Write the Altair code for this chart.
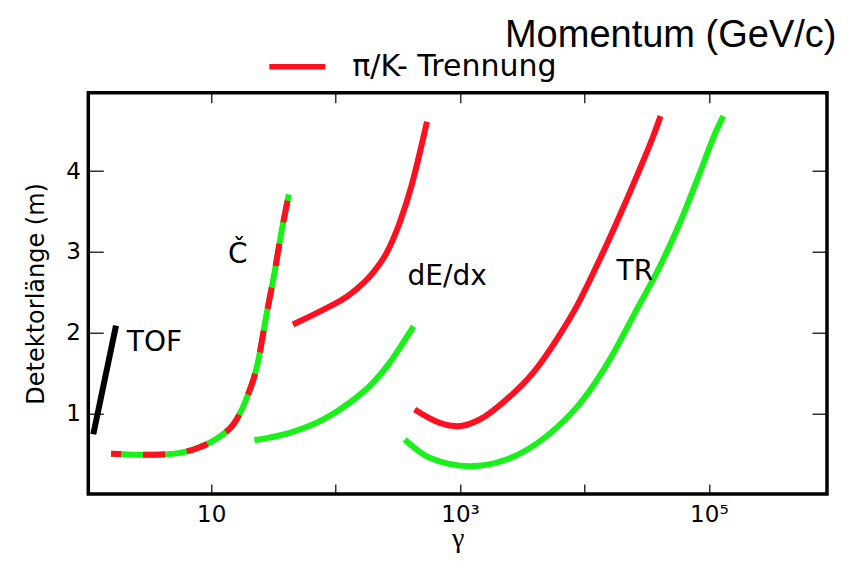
import altair as alt
import pandas as pd

RED = "#ff1020"
GREEN = "#1af01a"
PI_K = "π/K- Trennung"
E_PI = "e/π- Trennung"

# ---- data (gamma, detector length in m) ----
tof_gamma = [1.13, 1.72]
tof_len = [0.74, 2.085]

ck_gamma = [1.57, 3.09, 5.07, 7.80, 11.7, 15.4, 19.1, 23.7, 27.7, 32.3, 36.6, 42.1]
ck_len = [0.50, 0.485, 0.50, 0.57, 0.71, 0.88, 1.17, 1.62, 2.20, 2.74, 3.23, 3.71]

dedx_pik_gamma = [45.4, 79.1, 129.6, 199.5, 255.8, 327.3, 406.4, 474.2, 542.7]
dedx_pik_len = [2.10, 2.28, 2.47, 2.74, 2.98, 3.36, 3.81, 4.22, 4.61]
dedx_epi_gamma = [22.3, 42.7, 79.1, 129.6, 199.5, 271.9, 347.9, 424.1]
dedx_epi_len = [0.666, 0.757, 0.92, 1.13, 1.376, 1.624, 1.87, 2.077]

tr_pik_gamma = [432, 687, 964, 1440, 2362, 3864, 5963, 8638, 12500, 18120, 26240, 35690, 40930]
tr_pik_len = [1.047, 0.882, 0.84, 0.923, 1.17, 1.50, 1.91, 2.32, 2.82, 3.36, 3.93, 4.43, 4.68]
tr_epi_gamma = [359, 570, 1196, 2362, 4955, 9761, 15990, 26240, 40430, 58540, 84800, 115600, 130600]
tr_epi_len = [0.675, 0.448, 0.344, 0.427, 0.715, 1.17, 1.665, 2.28, 2.82, 3.36, 3.98, 4.51, 4.68]

label_text = ["TOF", "Č", "dE/dx", "TR"]
label_gamma = [3.5, 16.4, 789, 25440]
label_len = [1.776, 2.865, 2.584, 2.655]

x_ticks = [10, 100, 1000, 10000, 100000]
y_ticks = [1, 2, 3, 4]
x_domain = [1.03, 8.9e5]
y_domain = [0, 4.97]

W, H = 738.7, 401.3


def curve(name, sep, g, l):
    return pd.DataFrame({"curve": name, "sep": sep, "gamma": g, "len": l})


tof_df = curve("TOF", "TOF", tof_gamma, tof_len)
green_df = pd.concat([
    curve("Č", E_PI, ck_gamma, ck_len),
    curve("dE/dx", E_PI, dedx_epi_gamma, dedx_epi_len),
    curve("TR", E_PI, tr_epi_gamma, tr_epi_len),
])
red_df = pd.concat([
    curve("dE/dx", PI_K, dedx_pik_gamma, dedx_pik_len),
    curve("TR", PI_K, tr_pik_gamma, tr_pik_len),
])
ck_red_df = curve("Č", PI_K, ck_gamma, ck_len)
label_df = pd.DataFrame({"label": label_text, "gamma": label_gamma, "len": label_len})

xs = alt.Scale(type="log", domain=x_domain, nice=False)
ys = alt.Scale(domain=y_domain, nice=False, zero=False)
cs = alt.Scale(domain=[PI_K, E_PI], range=[RED, GREEN])

FONT = "DejaVu Sans"

x_bottom = alt.Axis(
    orient="bottom", values=x_ticks,
    labelExpr="datum.value == 10 ? '10' : datum.value == 1000 ? '10³' : datum.value == 100000 ? '10⁵' : ''",
    tickSize=10, offset=-10, domain=False, grid=False, tickColor="black", tickWidth=1.2,
    labelFont=FONT, labelFontSize=23, labelColor="black", labelPadding=9,
    labelOverlap=False, labelFlush=False,
    title="γ", titleFont="Liberation Serif", titleFontSize=28, titleFontWeight="normal",
    titleColor="black", titleBaseline="alphabetic", titlePadding=20,
)
x_top = alt.Axis(
    orient="top", values=x_ticks, labels=False, tickSize=10, offset=-10,
    domain=False, grid=False, tickColor="black", tickWidth=1.2,
    title="Momentum (GeV/c)", titleFont="Liberation Sans", titleFontSize=38,
    titleFontWeight="normal", titleColor="black", titleAlign="right",
    titleBaseline="alphabetic", titleX=W + 9, titleY=-56, titleAngle=0,
)
y_left = alt.Axis(
    orient="left", values=y_ticks, tickSize=15, offset=-15, domain=False, grid=False,
    tickColor="black", tickWidth=1.2,
    labelFont=FONT, labelFontSize=23, labelColor="black", labelPadding=8,
    title="Detektorlänge (m)", titleFont=FONT, titleFontSize=24, titleFontWeight="normal",
    titleColor="black", titlePadding=17,
)
y_right = alt.Axis(
    orient="right", values=y_ticks, labels=False, tickSize=15, offset=-15,
    domain=False, grid=False, tickColor="black", tickWidth=1.2, title=None,
)

legend = alt.Legend(
    title=None, orient="none", legendX=178, legendY=-57, values=[PI_K],
    symbolType="stroke", symbolSize=3136, symbolStrokeWidth=5.5,
    labelFont=FONT, labelFontSize=30, labelColor="black", labelOffset=24,
    padding=0, labelLimit=400,
)

tof_layer = alt.Chart(tof_df).mark_line(color="black", strokeWidth=6, strokeCap="butt").encode(
    x=alt.X("gamma:Q", scale=xs, axis=x_bottom),
    y=alt.Y("len:Q", scale=ys, axis=y_left),
)

green_layer = alt.Chart(green_df).mark_line(strokeWidth=6, interpolate="monotone", strokeCap="butt").encode(
    x=alt.X("gamma:Q", scale=xs, axis=x_top),
    y=alt.Y("len:Q", scale=ys, axis=y_right),
    color=alt.Color("sep:N", scale=cs, legend=legend),
    detail="curve:N",
)

red_layer = alt.Chart(red_df).mark_line(strokeWidth=6, interpolate="monotone", strokeCap="butt").encode(
    x=alt.X("gamma:Q", scale=xs, axis=None),
    y=alt.Y("len:Q", scale=ys, axis=None),
    color=alt.Color("sep:N", scale=cs, legend=legend),
    detail="curve:N",
)

ck_red_layer = alt.Chart(ck_red_df).mark_line(
    strokeWidth=6, interpolate="monotone", strokeCap="butt", strokeDash=[22, 22], strokeDashOffset=12
).encode(
    x=alt.X("gamma:Q", scale=xs, axis=None),
    y=alt.Y("len:Q", scale=ys, axis=None),
    color=alt.Color("sep:N", scale=cs, legend=None),
)

text_layer = alt.Chart(label_df).mark_text(
    font=FONT, fontSize=28, color="black", align="center", baseline="alphabetic"
).encode(
    x=alt.X("gamma:Q", scale=xs, axis=None),
    y=alt.Y("len:Q", scale=ys, axis=None),
    text="label:N",
)

chart = alt.layer(
    tof_layer, green_layer, red_layer, ck_red_layer, text_layer
).resolve_axis(
    x="independent", y="independent"
).properties(
    width=W, height=H,
    autosize=alt.AutoSizeParams(type="none"),
    padding={"left": 80.3, "top": 84.7, "right": 13, "bottom": 59},
).configure_view(stroke="black", strokeWidth=3.5)

chart.save("out.html", embed_options={"renderer": "svg", "actions": False})
